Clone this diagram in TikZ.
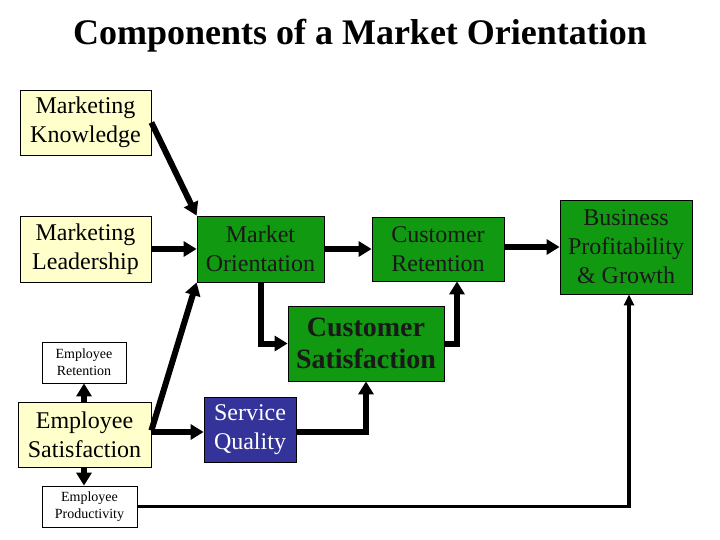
\documentclass[tikz,border=0pt]{standalone}
\usepackage{fontspec}
\setmainfont{Liberation Serif}
\usetikzlibrary{arrows.meta}
\definecolor{boxyellow}{RGB}{255,255,204}
\definecolor{boxgreen}{RGB}{17,153,17}
\definecolor{boxblue}{RGB}{51,51,153}
\tikzset{
	box/.style={draw=black, line width=0.8pt, inner sep=0pt, align=center, font=\fontsize{24}{29}\selectfont},
	yellowbox/.style={box, fill=boxyellow},
	greenbox/.style={box, fill=boxgreen, text=black!90},
	smallbox/.style={box, fill=white, font=\fontsize{14}{17}\selectfont},
	thick arrow/.style={line width=6pt, -{Triangle[length=13pt,width=15pt]}},
	thin arrow/.style={line width=3.2pt, -{Triangle[length=11pt,width=10pt]}}
}
\begin{document}
\begin{tikzpicture}[x=1pt, y=-1pt]
		%%%%% START %%%%%
		
		\useasboundingbox (0, 0) rectangle (720, 540);
		
		\node[font=\fontsize{36}{40}\selectfont\bfseries] (title) at (360, 36) {Components of a Market Orientation};
		
		\node[yellowbox, minimum width=131pt, minimum height=65pt] (knowledge) at (85.5, 122.5) {Marketing\\Knowledge};
		\node[yellowbox, minimum width=131pt, minimum height=66pt] (leadership) at (85.5, 249) {Marketing\\Leadership};
		\node[greenbox, minimum width=127pt, minimum height=66pt] (orientation) at (260.5, 249) {Market\\Orientation};
		\node[greenbox, minimum width=132pt, minimum height=64pt] (retention) at (438, 249) {Customer\\Retention};
		\node[greenbox, minimum width=132pt, minimum height=94pt] (profit) at (626, 247) {Business\\Profitability\\\& Growth};
		\node[greenbox, minimum width=156pt, minimum height=75pt, font=\fontsize{28}{32}\selectfont\bfseries] (satisfaction) at (366, 343.5) {Customer\\Satisfaction};
		
		\node[smallbox, minimum width=84pt, minimum height=41pt] (empret) at (84, 362.5) {Employee\\Retention};
		\node[yellowbox, minimum width=133pt, minimum height=65pt] (empsat) at (84.5, 434.5) {Employee\\Satisfaction};
		\node[smallbox, minimum width=95pt, minimum height=41pt] (empprod) at (89.5, 506.5) {Employee\\Productivity};
		\node[box, fill=boxblue, text=white, minimum width=92pt, minimum height=65pt] (quality) at (250, 429.5) {Service\\Quality};
		
		\draw[thick arrow] (knowledge.east) -- (orientation.north west);
		\draw[thick arrow] (leadership.east) -- (orientation.west);
		\draw[thick arrow] (orientation.east) -- (retention.west);
		\draw[thick arrow] (retention.east |- profit.west) -- (profit.west);
		\draw[thick arrow] (orientation.south) |- (satisfaction.west);
		\draw[thick arrow] (satisfaction.east) -| ([xshift=19pt]retention.south);
		\draw[thick arrow] ([yshift=-2.5pt]quality.east) -| (satisfaction.south);
		
		\draw[thick arrow] ([yshift=2.5pt]empsat.east) -- ([yshift=-2.5pt]quality.west);
		\draw[thick arrow] ([yshift=4pt]empsat.east) -- (orientation.south west);
		\draw[thick arrow] (empsat.north -| empret.south) -- (empret.south);
		\draw[thick arrow] (empsat.south -| empret.south) -- (empret.south |- empprod.north);
		\draw[thin arrow] (empprod.east) -| ([xshift=3pt]profit.south);
		
		%%%%% END %%%%%
	\end{tikzpicture}
\end{document}
